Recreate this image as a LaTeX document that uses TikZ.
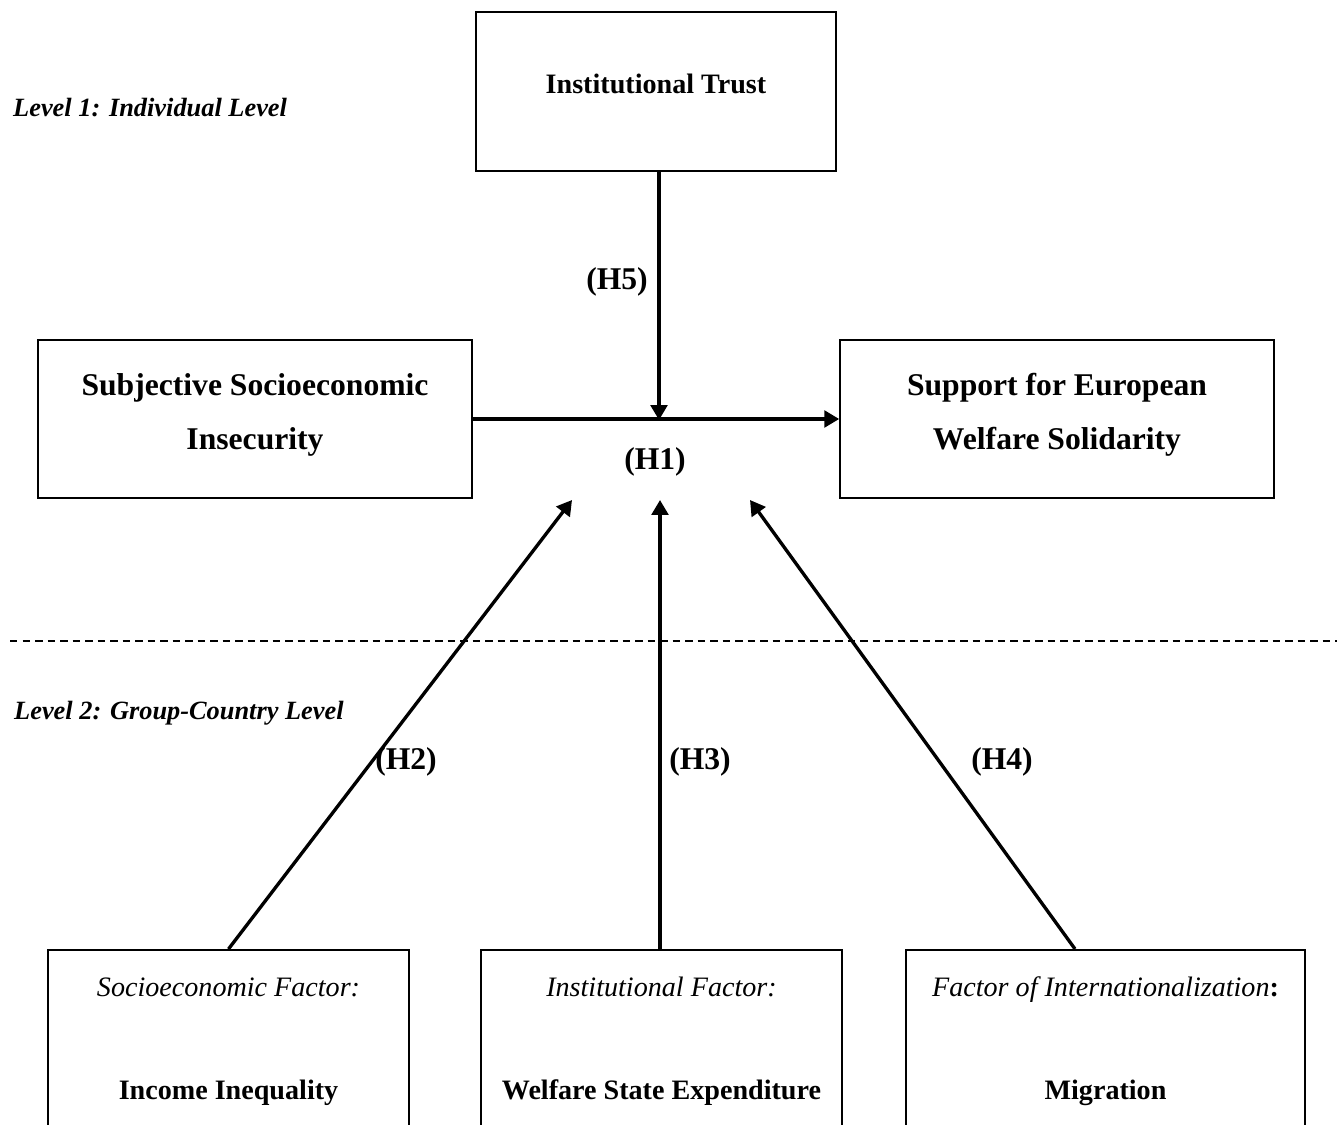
\documentclass[tikz,border=0pt]{standalone}
\usepackage{fontspec}
\setmainfont{Liberation Serif}
\usepackage{tikz}
\usetikzlibrary{arrows.meta,positioning,calc}
\newcommand{\bigtxt}{\fontsize{18}{31}\selectfont\bfseries}
\newcommand{\midtxt}{\fontsize{16}{19}\selectfont}
\newcommand{\lvltxt}{\fontsize{15}{18}\selectfont\bfseries\itshape}

\begin{document}
\begin{tikzpicture}[>={Triangle[length=8.5pt,width=9.5pt]}]
\tikzset{box/.style={draw=black,line width=0.9pt,align=center,inner sep=0pt}, arr/.style={->,draw=black,line width=1.9pt}, hyp/.style={font=\bigtxt}}
\clip (0,0) rectangle (26.74,-22.48);
% level 1
\node[box,minimum width=7.2cm,minimum height=3.18cm,font=\midtxt\bfseries,text depth=0.33cm] (trust) at (13.12,-1.83) {Institutional Trust};
\node[box,minimum width=8.68cm,minimum height=3.16cm,font=\bigtxt,text depth=0.3cm] (insec) at (5.1,-8.38) {Subjective Socioeconomic\\Insecurity};
\node[box,minimum width=8.68cm,minimum height=3.16cm,font=\bigtxt,text depth=0.3cm] (supp) at (21.14,-8.38) {Support for European\\Welfare Solidarity};
\node[font=\lvltxt,anchor=west] (lvlone) at (0.14,-2.16) {Level 1: Individual Level};
\coordinate (hfive) at (13.18,-8.4);
\draw[arr] (insec.east)--(supp.west);
\draw[arr] (trust.south -| hfive)--(hfive);
\node[hyp] (lbfive) at (12.34,-5.64) {(H5)};
\node[hyp] (lbone) at (13.1,-9.24) {(H1)};
% level 2
\draw[line width=0.8pt,dash pattern=on 0.15cm off 0.1cm] (0.2,-12.82)--(26.74,-12.82);
\node[font=\lvltxt,anchor=west] (lvltwo) at (0.16,-14.26) {Level 2: Group-Country Level};
\node[box,minimum width=7.22cm,minimum height=4cm,anchor=north] (inc) at (4.57,-18.98) {};
\node[box,minimum width=7.22cm,minimum height=4cm,anchor=north] (wel) at (13.23,-18.98) {};
\node[box,minimum width=7.98cm,minimum height=4cm,anchor=north] (mig) at (22.11,-18.98) {};
\node[font=\midtxt\itshape] (incA) at (4.57,-19.74) {Socioeconomic Factor:};
\node[font=\midtxt\bfseries] (incB) at (4.57,-21.85) {Income Inequality};
\node[font=\midtxt\itshape] (welA) at (13.23,-19.74) {Institutional Factor:};
\node[font=\midtxt\bfseries] (welB) at (13.23,-21.85) {Welfare State Expenditure};
\node[font=\midtxt] (migA) at (22.11,-19.8) {\textit{Factor of Internationalization}\textbf{:}};
\node[font=\midtxt\bfseries] (migB) at (22.11,-21.85) {Migration};
\coordinate (twotip) at (11.44,-10.0);
\coordinate (threetip) at (13.2,-10.0);
\coordinate (fourtip) at (15.0,-10.0);
\coordinate (fourfoot) at (21.5,-18.98);
\draw[arr] (inc.north)--(twotip);
\draw[arr] (wel.north -| threetip)--(threetip);
\draw[arr] (fourfoot)--(fourtip);
\node[hyp] (lbtwo) at (8.12,-15.24) {(H2)};
\node[hyp] (lbthree) at (14.0,-15.24) {(H3)};
\node[hyp] (lbfour) at (20.04,-15.24) {(H4)};
\end{tikzpicture}
\end{document}
